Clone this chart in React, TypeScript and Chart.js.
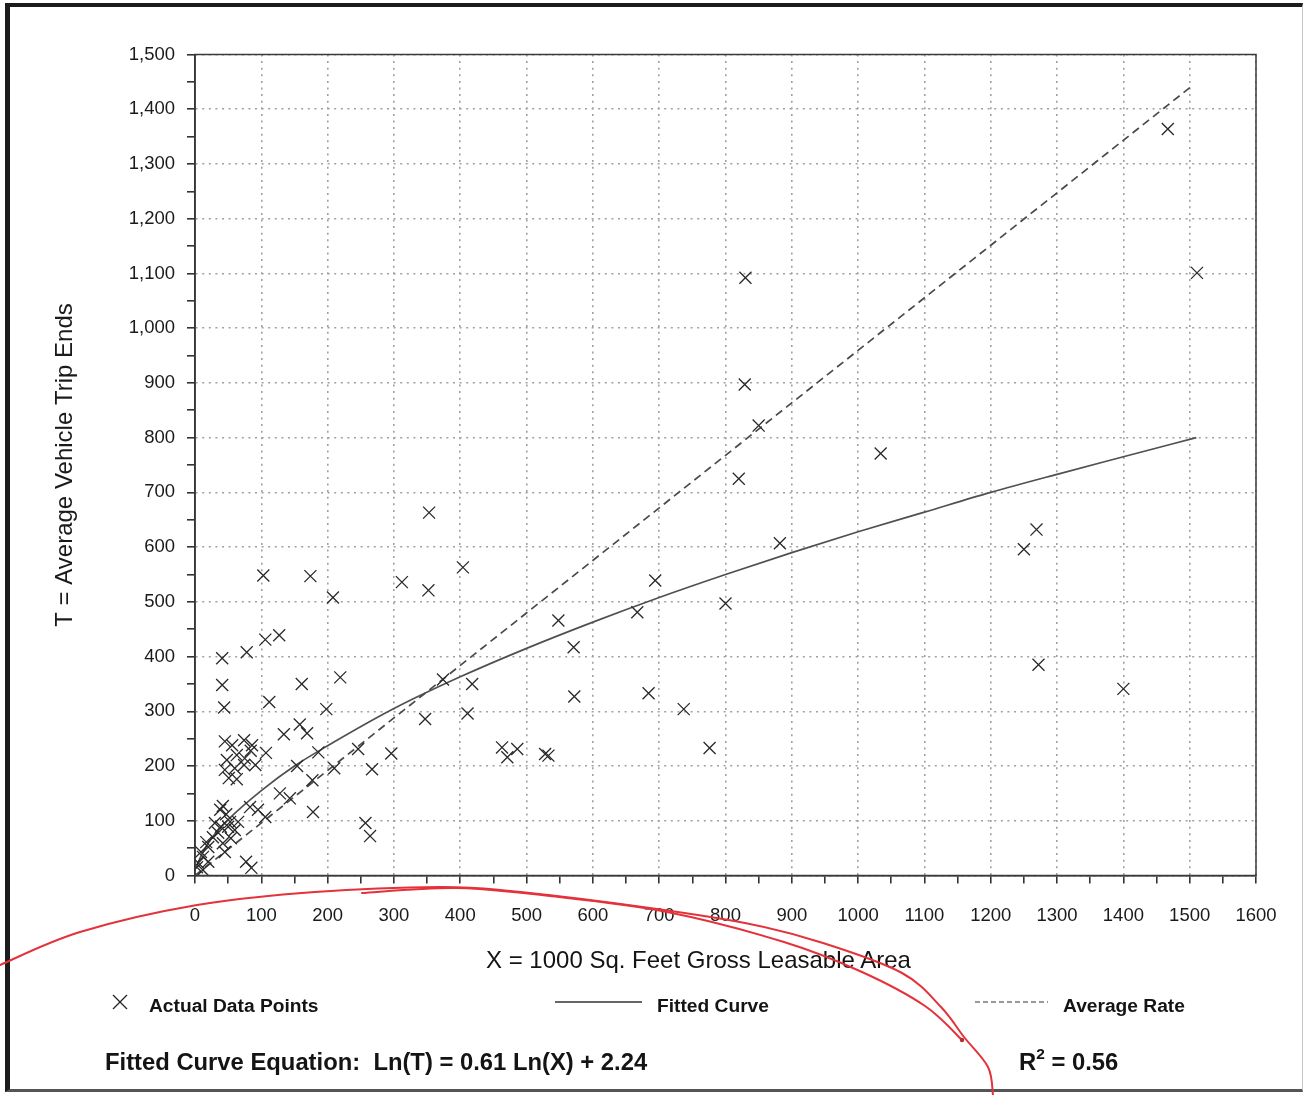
import React, { useEffect, useRef } from 'react';
import { Chart, registerables } from 'chart.js';

Chart.register(...registerables);

// ---- Data ----
const pointX = [
  41, 41, 44, 78,
  45, 56, 74, 86, 48, 63, 75, 45, 60, 74, 51, 63, 91, 84,
  5, 12, 9, 20, 17, 27, 35, 39, 30, 50, 60, 54, 42, 65, 38, 42, 95, 106, 77, 85, 20, 12, 45, 53, 83, 47, 3,
  103, 174, 208, 312, 352, 106, 127, 161, 219, 112, 198, 347, 158, 169, 134, 107, 186, 246, 296, 210, 154, 267, 177, 128, 143, 178, 257, 264,
  353, 404, 548, 571, 374, 418, 572, 411, 463, 471, 486, 528, 533,
  694, 667, 800, 684, 737, 776, 830, 829, 850, 820, 1034, 882, 1467, 1511, 1269, 1250, 1272, 1400,
];
const pointT = [
  397, 348, 307, 408,
  245, 238, 247, 238, 211, 220, 214, 193, 196, 202, 178, 176, 202, 228,
  23, 34, 43, 52, 61, 70, 78, 89, 96, 89, 83, 68, 59, 98, 120, 127, 120, 107, 25, 14, 25, 10, 43, 98, 125, 112, 15,
  548, 547, 508, 536, 521, 431, 439, 350, 362, 317, 304, 286, 276, 260, 258, 224, 225, 231, 223, 196, 200, 194, 174, 150, 141, 116, 96, 72,
  663, 563, 466, 417, 358, 350, 327, 296, 234, 216, 231, 222, 219,
  539, 481, 497, 333, 304, 233, 1092, 897, 822, 725, 771, 607, 1364, 1101, 632, 596, 385, 341,
];
const curveX = [3, 10, 25, 50, 100, 150, 200, 300, 400, 500, 600, 700, 800, 900, 1000, 1100, 1200, 1300, 1400, 1510];
const curveT = [18, 38, 68, 102, 155, 200, 237, 305, 363, 415, 463, 508, 550, 590, 628, 664, 700, 733, 765, 800];
const rateX = [0, 1506];
const rateT = [0, 1445];

const xMin = 0, xMax = 1600, yMin = 0, yMax = 1500;
const majorStep = 100, minorStep = 50;

const xTitle = 'X = 1000 Sq. Feet Gross Leasable Area';
const yTitle = 'T = Average Vehicle Trip Ends';
const legendPoints = 'Actual Data Points';
const legendCurve = 'Fitted Curve';
const legendRate = 'Average Rate';
const equationText = 'Fitted Curve Equation:  Ln(T) = 0.61 Ln(X) + 2.24';
const rSquaredText = ' = 0.56';

const FONT = '"Liberation Sans", Arial, Helvetica, sans-serif';

// decoration: hand-drawn red annotation (page coordinates)
const annotOuter = [[0, 965], [80, 932], [197, 905], [315, 892], [440, 887], [510, 891], [628, 905], [745, 923], [823, 943], [902, 973], [941, 1007], [964, 1037], [988, 1067], [993, 1095]];
const annotInner = [[362, 893], [456, 888], [550, 896], [667, 912], [784, 942], [862, 972], [925, 1006], [962, 1040]];

function crPath(pts: number[][]): string {
  let d = `M${pts[0][0]},${pts[0][1]}`;
  for (let i = 0; i < pts.length - 1; i++) {
    const p0 = pts[i - 1] || pts[i];
    const p1 = pts[i];
    const p2 = pts[i + 1];
    const p3 = pts[i + 2] || p2;
    const c1x = p1[0] + (p2[0] - p0[0]) / 6, c1y = p1[1] + (p2[1] - p0[1]) / 6;
    const c2x = p2[0] - (p3[0] - p1[0]) / 6, c2y = p2[1] - (p3[1] - p1[1]) / 6;
    d += ` C${c1x},${c1y} ${c2x},${c2y} ${p2[0]},${p2[1]}`;
  }
  return d;
}

const plotFrame = {
  id: 'plotFrame',
  afterDraw(chart: any) {
    const { ctx, chartArea } = chart;
    ctx.save();
    ctx.strokeStyle = '#3a3a3a';
    ctx.lineWidth = 1.5;
    ctx.strokeRect(chartArea.left, chartArea.top, chartArea.right - chartArea.left, chartArea.bottom - chartArea.top);
    ctx.restore();
  },
};

export default function App() {
  const canvasRef = useRef<HTMLCanvasElement | null>(null);

  useEffect(() => {
    document.documentElement.style.overflow = 'hidden';
    const canvas = canvasRef.current;
    if (!canvas) return;
    const gridColor = (ctx: any) => {
      const v = ctx.tick ? ctx.tick.value : 0;
      return v % majorStep === 0 ? '#a0a0a0' : 'rgba(0,0,0,0)';
    };
    const chart = new Chart(canvas, {
      type: 'scatter',
      data: {
        datasets: [
          {
            label: legendPoints,
            data: pointX.map((x, i) => ({ x, y: pointT[i] })),
            pointStyle: 'crossRot',
            pointRadius: 8.5,
            borderColor: '#2a2a2a',
            backgroundColor: 'rgba(0,0,0,0)',
            borderWidth: 1.3,
            showLine: false,
            order: 0,
          },
          {
            label: legendCurve,
            data: curveX.map((x, i) => ({ x, y: curveT[i] })),
            showLine: true,
            pointRadius: 0,
            borderColor: '#505050',
            borderWidth: 1.7,
            cubicInterpolationMode: 'monotone',
            order: 1,
          },
          {
            label: legendRate,
            data: rateX.map((x, i) => ({ x, y: rateT[i] })),
            showLine: true,
            pointRadius: 0,
            borderColor: '#4a4a4a',
            borderWidth: 1.7,
            borderDash: [8, 5],
            order: 2,
          },
        ],
      },
      options: {
        responsive: false,
        animation: false,
        events: [],
        layout: { padding: { top: 54.5, right: 51, bottom: 0, left: 0 } },
        plugins: { legend: { display: false }, tooltip: { enabled: false } },
        scales: {
          x: {
            type: 'linear',
            min: xMin,
            max: xMax,
            afterFit: (s: any) => { s.height = 219.5; },
            ticks: {
              stepSize: minorStep,
              autoSkip: false,
              maxRotation: 0,
              padding: 21,
              color: '#1a1a1a',
              font: { family: FONT, size: 18.5 },
              callback: (v: any) => (Number(v) % majorStep === 0 ? String(v) : ''),
            },
            grid: { color: gridColor, lineWidth: 1.6, tickColor: '#333', tickLength: 8, drawTicks: true },
            border: { display: true, color: '#2a2a2a', width: 1.6, dash: [2, 4.6] },
          },
          y: {
            type: 'linear',
            min: yMin,
            max: yMax,
            afterFit: (s: any) => { s.width = 195; },
            ticks: {
              stepSize: minorStep,
              autoSkip: false,
              padding: 12,
              color: '#1a1a1a',
              font: { family: FONT, size: 18.5 },
              callback: (v: any) => (Number(v) % majorStep === 0 ? Number(v).toLocaleString('en-US') : ''),
            },
            grid: { color: gridColor, lineWidth: 1.6, tickColor: '#333', tickLength: 8, drawTicks: true },
            border: { display: true, color: '#2a2a2a', width: 1.6, dash: [2, 4.6] },
            title: {
              display: true,
              text: yTitle,
              color: '#1a1a1a',
              font: { family: FONT, size: 24 },
              padding: { top: 50.6, bottom: 0 },
            },
          },
        },
      },
      plugins: [plotFrame],
    } as any);
    return () => chart.destroy();
  }, []);

  const textBase: React.CSSProperties = {
    position: 'absolute',
    fontFamily: FONT,
    color: '#141414',
    lineHeight: 1,
    whiteSpace: 'pre',
    margin: 0,
  };

  return (
    <div style={{ position: 'absolute', left: 0, top: 0, width: 1307, height: 1095, background: '#fff', overflow: 'hidden' }}>
      <canvas ref={canvasRef} width={1307} height={1095} style={{ position: 'absolute', left: 0, top: 0, width: 1307, height: 1095 }} />
      <div
        style={{
          position: 'absolute', left: 5, top: 3, width: 1298, height: 1089, boxSizing: 'border-box',
          borderTop: '4px solid #1c1c1c', borderLeft: '5px solid #1c1c1c', borderRight: '1px solid #c8c8c8', borderBottom: '3px solid #555',
          pointerEvents: 'none',
        }}
      />
      <div style={{ ...textBase, left: 486, top: 948, fontSize: 24 }}>{xTitle}</div>
      <div style={{ ...textBase, left: 149, top: 995.5, fontSize: 19.2, fontWeight: 'bold' }}>{legendPoints}</div>
      <div style={{ ...textBase, left: 657, top: 995.5, fontSize: 19.2, fontWeight: 'bold' }}>{legendCurve}</div>
      <div style={{ ...textBase, left: 1063, top: 995.5, fontSize: 19.2, fontWeight: 'bold' }}>{legendRate}</div>
      <div style={{ ...textBase, left: 105, top: 1050, fontSize: 23.8, fontWeight: 'bold' }}>{equationText}</div>
      <div style={{ ...textBase, left: 1019, top: 1050, fontSize: 23.8, fontWeight: 'bold' }}>
        R<sup style={{ fontSize: 15.5, verticalAlign: 'top', position: 'relative', top: -4 }}>2</sup>{rSquaredText}
      </div>
      <svg width={1307} height={1095} style={{ position: 'absolute', left: 0, top: 0, pointerEvents: 'none' }}>
        <g stroke="#222" strokeWidth={1.3}>
          <line x1={113} y1={995} x2={127} y2={1009} />
          <line x1={113} y1={1009} x2={127} y2={995} />
        </g>
        <line x1={555} y1={1002} x2={642} y2={1002} stroke="#333" strokeWidth={1.6} />
        <line x1={975} y1={1002} x2={1048} y2={1002} stroke="#777" strokeWidth={1.6} strokeDasharray="5,3" />
        <path d={crPath(annotOuter)} fill="none" stroke="#e4323a" strokeWidth={2} strokeLinecap="round" />
        <path d={crPath(annotInner)} fill="none" stroke="#e4323a" strokeWidth={2} strokeLinecap="round" />
        <circle cx={962} cy={1040} r={2.2} fill="#c0282e" />
      </svg>
    </div>
  );
}
